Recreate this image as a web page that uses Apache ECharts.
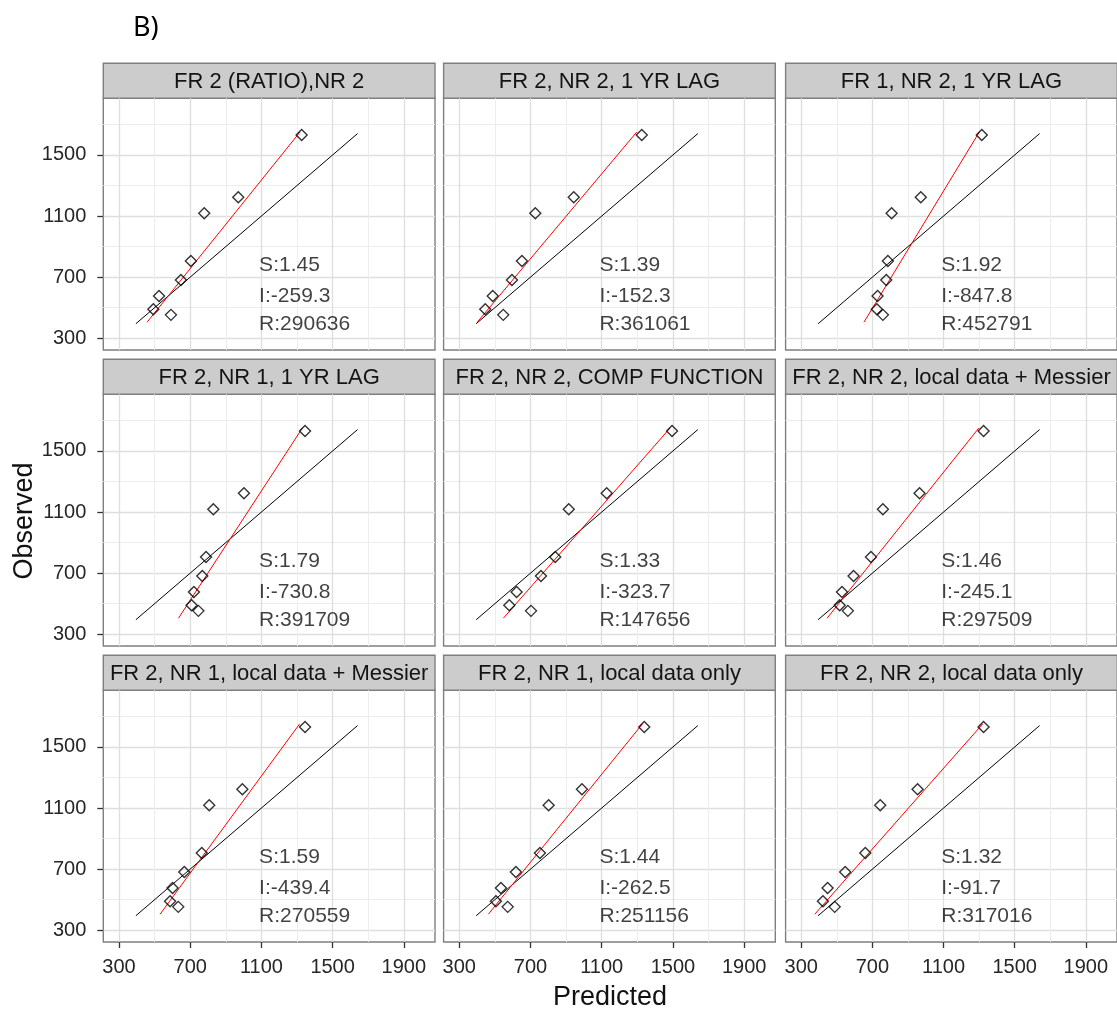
<!DOCTYPE html>
<html><head><meta charset="utf-8">
<script src="https://cdn.jsdelivr.net/npm/echarts@6/dist/echarts.min.js"></script>
<style>html,body{margin:0;padding:0;background:#fff}#chart{width:1117px;height:1009px}</style>
</head><body><div id="chart"></div>
<script>
// ---------------- DATA ----------------
const panelTitles = [
  'FR 2 (RATIO),NR 2', 'FR 2, NR 2, 1 YR LAG', 'FR 1, NR 2, 1 YR LAG',
  'FR 2, NR 1, 1 YR LAG', 'FR 2, NR 2, COMP FUNCTION', 'FR 2, NR 2, local data + Messier',
  'FR 2, NR 1, local data + Messier', 'FR 2, NR 1, local data only', 'FR 2, NR 2, local data only'
];
const observed = [1631, 1223, 1118, 806, 682, 577, 490, 453];
const predictedP1 = [1326, 970, 779, 704, 648, 525, 493, 592];
const predictedP2 = [1325, 943, 727, 652, 596, 488, 446, 547];
const predictedP3 = [1315, 972, 808, 787, 778, 729, 725, 759];
const predictedP4 = [1345, 1002, 830, 789, 768, 721, 708, 746];
const predictedP5 = [1495, 1128, 915, 839, 759, 622, 581, 703];
const predictedP6 = [1325, 965, 759, 692, 594, 529, 516, 562];
const predictedP7 = [1345, 993, 807, 765, 667, 601, 587, 633];
const predictedP8 = [1339, 989, 802, 753, 618, 534, 506, 572];
const predictedP9 = [1325, 954, 744, 660, 547, 448, 422, 488];
const slopeS = [1.45, 1.39, 1.92, 1.79, 1.33, 1.46, 1.59, 1.44, 1.32];
const interceptI = [-259.3, -152.3, -847.8, -730.8, -323.7, -245.1, -439.4, -262.5, -91.7];
const residualR = [290636, 361061, 452791, 391709, 147656, 297509, 270559, 251156, 317016];
const xTickValues = [300, 700, 1100, 1500, 1900];
const yTickValues = [300, 700, 1100, 1500];
const xMinorValues = [500, 900, 1300, 1700];
const yMinorValues = [500, 900, 1300, 1700];
const identityLineRange = [395, 1640];
const fitLineObservedRange = [405, 1650];

// ---------------- LAYOUT ----------------
const FONT = '"Liberation Sans", Arial, sans-serif';
const colLefts = [103.3, 443.6, 785.6];
const rowTops = [98.3, 394.3, 690.3];
const plotW = 331.7, plotH = 251.7, stripH = 35;
const xMin = 212, xMax = 2075, yMin = 223, yMax = 1871;
const annotX = 1090, annotY = [778, 575, 387];

const panelPredicted = [predictedP1, predictedP2, predictedP3, predictedP4, predictedP5,
  predictedP6, predictedP7, predictedP8, predictedP9];

const grids = [], xAxes = [], yAxes = [], series = [], graphics = [];
for (let i = 0; i < 9; i++) {
  const r = Math.floor(i / 3), c = i % 3;
  grids.push({left: colLefts[c], top: rowTops[r], width: plotW, height: plotH,
    show: true, backgroundColor: '#ffffff', borderColor: '#7f7f7f', borderWidth: 1.4});
  xAxes.push({type: 'value', gridIndex: i, min: xMin, max: xMax, position: 'bottom',
    axisLine: {show: false, onZero: false},
    axisTick: {show: r === 2, customValues: xTickValues, length: 6, lineStyle: {color: '#333333', width: 1.3}},
    axisLabel: {show: r === 2, customValues: xTickValues, formatter: v => String(v), margin: 15,
      fontSize: 20, color: '#262626', fontFamily: FONT},
    splitLine: {show: true, lineStyle: {color: '#dedede', width: 1.3}}});
  xAxes.push({type: 'value', gridIndex: i, min: xMin, max: xMax, position: 'top',
    axisLine: {show: false, onZero: false},
    axisTick: {show: false, customValues: xMinorValues},
    axisLabel: {show: false, customValues: xMinorValues},
    splitLine: {show: true, lineStyle: {color: '#ededed', width: 1}}});
  yAxes.push({type: 'value', gridIndex: i, min: yMin, max: yMax, position: 'left',
    axisLine: {show: false, onZero: false},
    axisTick: {show: c === 0, customValues: yTickValues, length: 6, lineStyle: {color: '#333333', width: 1.3}},
    axisLabel: {show: c === 0, customValues: yTickValues, formatter: v => String(v), margin: 17,
      fontSize: 20, color: '#262626', fontFamily: FONT},
    splitLine: {show: true, lineStyle: {color: '#dedede', width: 1.3}}});
  yAxes.push({type: 'value', gridIndex: i, min: yMin, max: yMax, position: 'right',
    axisLine: {show: false, onZero: false},
    axisTick: {show: false, customValues: yMinorValues},
    axisLabel: {show: false, customValues: yMinorValues},
    splitLine: {show: true, lineStyle: {color: '#ededed', width: 1}}});

  const xi = 2 * i, yi = 2 * i;
  series.push({type: 'line', xAxisIndex: xi, yAxisIndex: yi, symbol: 'none', silent: true, z: 3,
    lineStyle: {color: '#000000', width: 1},
    data: identityLineRange.map(v => [v, v])});
  series.push({type: 'line', xAxisIndex: xi, yAxisIndex: yi, symbol: 'none', silent: true, z: 3,
    lineStyle: {color: '#ff0000', width: 1},
    data: fitLineObservedRange.map(y => [(y - interceptI[i]) / slopeS[i], y])});
  series.push({type: 'scatter', xAxisIndex: xi, yAxisIndex: yi, symbol: 'diamond', symbolSize: 11, silent: true, z: 4,
    itemStyle: {color: 'rgba(0,0,0,0)', borderColor: '#000000', borderWidth: 1.4},
    data: panelPredicted[i].map((p, k) => [p, observed[k]])});
  const texts = ['S:' + slopeS[i].toFixed(2), 'I:' + interceptI[i].toFixed(1), 'R:' + residualR[i]];
  series.push({type: 'scatter', xAxisIndex: xi, yAxisIndex: yi, symbolSize: 1, silent: true, z: 5,
    itemStyle: {color: 'rgba(0,0,0,0)'},
    label: {show: true, position: [0, 0], align: 'left', verticalAlign: 'middle',
      formatter: p => p.name, fontSize: 21, color: '#111111', fontFamily: FONT},
    data: texts.map((t, k) => ({name: t, value: [annotX, annotY[k]]}))});

  graphics.push({type: 'rect', shape: {x: colLefts[c], y: rowTops[r] - stripH, width: plotW, height: stripH},
    style: {fill: '#cccccc', stroke: '#7f7f7f', lineWidth: 1.4}});
  graphics.push({type: 'text', x: colLefts[c] + plotW / 2, y: rowTops[r] - stripH / 2 + 1,
    style: {text: panelTitles[i], fill: '#141414', font: '22px ' + FONT, textAlign: 'center', textVerticalAlign: 'middle'}});
}
graphics.push({type: 'text', x: 133, y: 28,
  style: {text: 'B)', fill: '#000000', font: '27px "Noto Sans", sans-serif', textAlign: 'left', textVerticalAlign: 'middle'}});
graphics.push({type: 'text', x: 610, y: 998,
  style: {text: 'Predicted', fill: '#111111', font: '27px ' + FONT, textAlign: 'center', textVerticalAlign: 'middle'}});
graphics.push({type: 'text', x: 25, y: 521, rotation: Math.PI / 2,
  style: {text: 'Observed', fill: '#111111', font: '27px ' + FONT, textAlign: 'center', textVerticalAlign: 'middle'}});

const chart = echarts.init(document.getElementById('chart'), null, {renderer: 'canvas'});
chart.setOption({
  animation: false,
  backgroundColor: '#ffffff',
  grid: grids, xAxis: xAxes, yAxis: yAxes, series: series,
  graphic: graphics
});
</script></body></html>
